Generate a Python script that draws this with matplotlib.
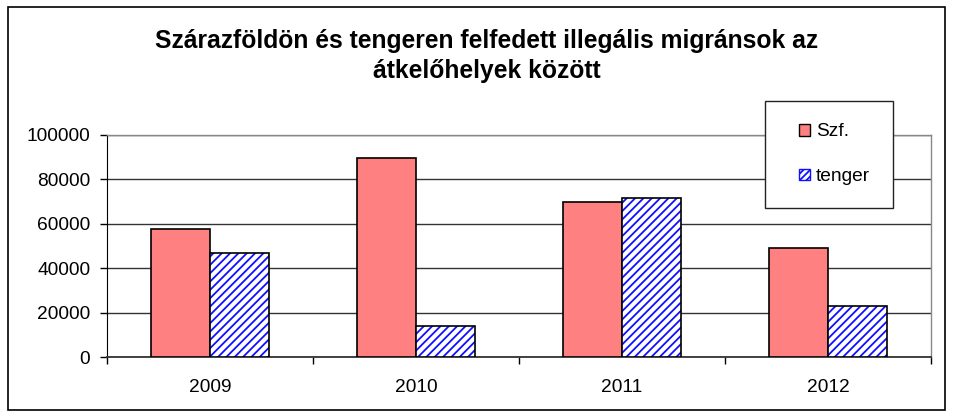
import matplotlib
matplotlib.use("Agg")
import matplotlib.pyplot as plt
import numpy as np
from matplotlib.patches import Rectangle
from matplotlib.legend_handler import HandlerPatch

plt.rcParams['font.family'] = ['Liberation Sans', 'DejaVu Sans']
plt.rcParams['hatch.linewidth'] = 1.3

years = ["2009", "2010", "2011", "2012"]
szf = [57400, 89700, 69900, 48900]
tenger = [46900, 14100, 71400, 23100]
series_labels = ["Szf.", "tenger"]
yticks = [0, 20000, 40000, 60000, 80000, 100000]
title = "Szárazföldön és tengeren felfedett illegális migránsok az\nátkelőhelyek között"

W, H = 955, 416
fig = plt.figure(figsize=(W / 100, H / 100), dpi=100)
ax = fig.add_axes([107 / W, 1 - 357 / H, (931 - 107) / W, (357 - 134.7) / H])

x = np.arange(len(years))
bw = 0.286
pink = "#FF8080"
ax.bar(x - bw / 2, szf, bw, color=pink, edgecolor="black", linewidth=1.2, zorder=3, label=series_labels[0])
ax.bar(x + bw / 2, tenger, bw, color="white", edgecolor="#1010FF", hatch="////", linewidth=0, zorder=3)
ax.bar(x + bw / 2, tenger, bw, fill=False, edgecolor="black", linewidth=1.2, zorder=4)

ax.set_xlim(-0.5, len(years) - 0.5)
ax.set_ylim(0, 100000)
ax.set_yticks(yticks)
ax.set_yticklabels([str(v) for v in yticks])
ax.yaxis.grid(True, color="#333333", linewidth=1.0, zorder=0)
ax.set_axisbelow(True)

ax.set_xticks(np.arange(-0.5, len(years), 1.0))
ax.set_xticklabels([])
ax.set_xticks(x, minor=True)
ax.set_xticklabels(years, minor=True)
ax.tick_params(axis="x", which="major", direction="out", length=5, width=1, color="black")
ax.tick_params(axis="x", which="minor", length=0, pad=16, labelsize=13.8)
ax.tick_params(axis="y", direction="out", length=5, width=1, pad=7, labelsize=13.8)

for s in ["top", "right"]:
    ax.spines[s].set_color("#888888")
    ax.spines[s].set_linewidth(1.0)
ax.spines["left"].set_color("black")
ax.spines["bottom"].set_color("#333333")
ax.spines["bottom"].set_linewidth(1.3)

# legend
def right_square(legend, orig_handle, xdescent, ydescent, width, height, fontsize):
    s = 0.62 * fontsize
    return Rectangle((width - s - xdescent, -ydescent + (height - s) / 2), s, s)

h1 = Rectangle((0, 0), 1, 1, facecolor=pink, edgecolor="black", linewidth=1.0)
h2 = Rectangle((0, 0), 1, 1, facecolor="white", edgecolor="#1010FF", hatch="/////", linewidth=1.0)
leg = fig.legend([h1, h2], series_labels, loc="upper left",
                 bbox_to_anchor=(765 / W, 1 - 101 / H), bbox_transform=fig.transFigure,
                 borderaxespad=0, fontsize=13.8, frameon=True, fancybox=False,
                 handlelength=1.2, handleheight=0.62, handletextpad=0.3,
                 borderpad=1.17, labelspacing=1.45,
                 handler_map={Rectangle: HandlerPatch(patch_func=right_square)})
leg.get_frame().set_edgecolor("#222222")
leg.get_frame().set_linewidth(1.0)
leg.get_frame().set_alpha(None)

fig.text(487 / W, 1 - 56 / H, title, ha="center", va="center", fontsize=17.7,
         fontweight="bold", linespacing=1.3)

# outer border
fig.add_artist(Rectangle((8 / W, 1 - 410 / H), (945 - 8) / W, (410 - 7) / H,
                         transform=fig.transFigure, fill=False, edgecolor="black", linewidth=1.2))

fig.savefig("out.png", dpi=100)
